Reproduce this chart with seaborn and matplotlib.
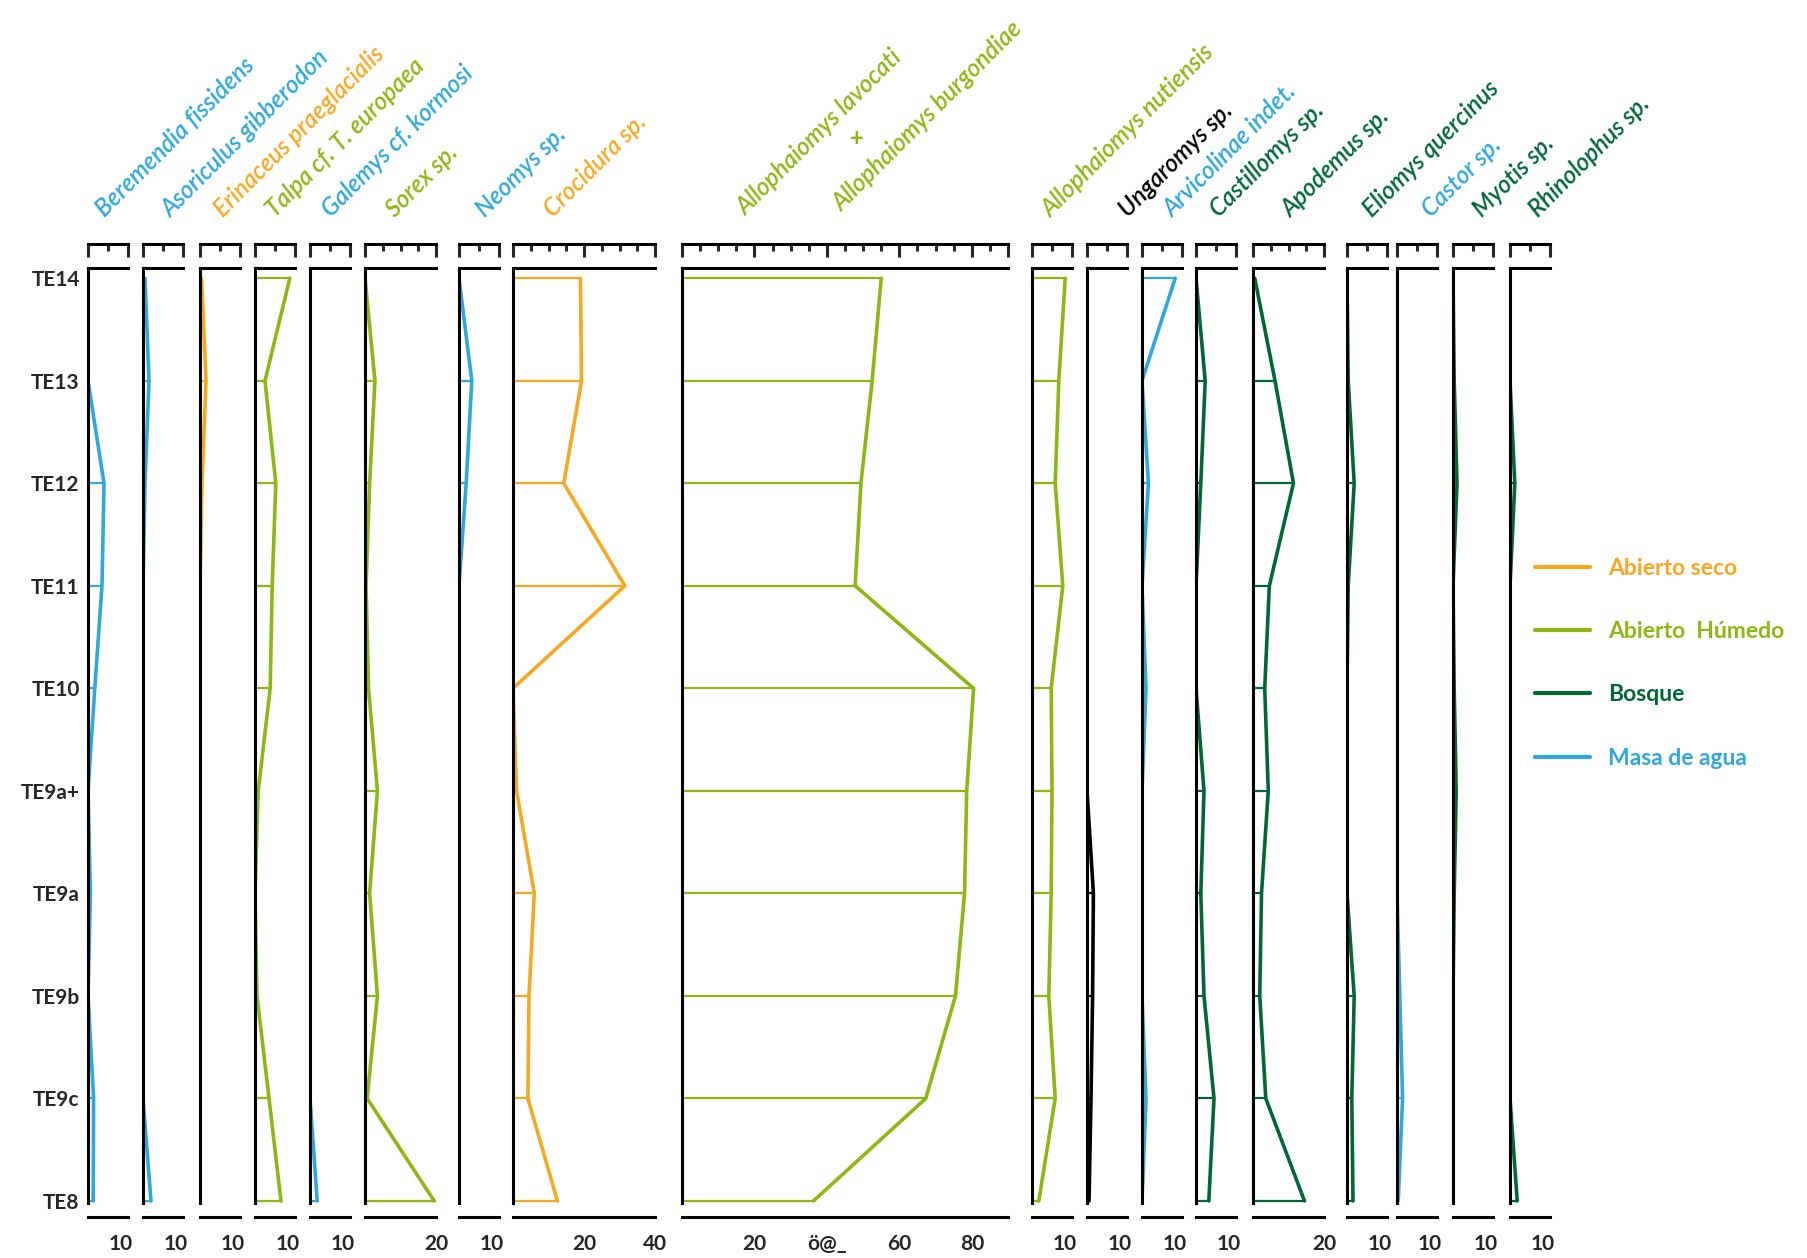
import matplotlib

matplotlib.use("Agg")
import matplotlib.pyplot as plt
import pandas as pd
import seaborn as sns
from matplotlib.lines import Line2D
from matplotlib.transforms import ScaledTranslation

levels = ["TE14", "TE13", "TE12", "TE11", "TE10", "TE9a+", "TE9a", "TE9b", "TE9c", "TE8"]

# percentages, top (TE14) to bottom (TE8)
beremendia = [0, 0, 4.0, 3.5, 1.7, 0, 0.6, 0, 1.4, 1.3]
asoriculus = [0.5, 1.5, 0.5, 0, 0, 0, 0, 0, 0, 2.0]
erinaceus = [0.4, 1.5, 0.5, 0, 0, 0, 0, 0, 0, 0]
talpa = [8.7, 2.5, 5.2, 4.3, 3.8, 0.8, 0, 0.5, 3.5, 6.5]
galemys = [0, 0, 0, 0, 0, 0, 0, 0, 0, 1.8]
sorex = [0, 2.8, 1.3, 0.3, 1.0, 3.5, 1.3, 3.5, 0.6, 19.5]
neomys = [0, 3.2, 1.8, 0, 0, 0, 0, 0, 0, 0]
crocidura = [19.0, 19.3, 14.3, 31.5, 0, 1.0, 6.0, 4.5, 4.2, 12.5]
allophaiomys_lb = [55.0, 52.5, 49.4, 47.8, 80.5, 78.6, 78.0, 75.5, 67.3, 36.3]
allophaiomys_n = [8.3, 6.7, 5.8, 7.7, 4.8, 5.0, 4.8, 4.2, 5.8, 1.7]
ungaromys = [0, 0, 0, 0, 0, 0, 1.6, 1.4, 1.0, 0.5]
arvicolinae = [8.3, 0, 1.6, 0, 1.0, 0, 0, 0, 1.0, 0]
castillomys = [0, 2.3, 1.2, 0, 0, 2.0, 1.2, 2.0, 4.5, 3.2]
apodemus = [0.5, 6.2, 11.4, 4.6, 3.3, 4.3, 2.4, 1.9, 3.6, 14.5]
eliomys = [0, 0.3, 1.8, 0.3, 0, 0, 0, 1.8, 1.2, 1.5]
castor = [0, 0, 0, 0, 0, 0, 0, 0.7, 1.4, 0.3]
myotis = [0, 0.3, 1.0, 0, 0.3, 0.8, 0.3, 0, 0, 0]
rhinolophus = [0, 0, 1.2, 0, 0, 0, 0, 0, 0, 1.8]

taxa = [
    "Beremendia fissidens", "Asoriculus gibberodon", "Erinaceus praeglacialis",
    "Talpa cf. T. europaea", "Galemys cf. kormosi", "Sorex sp.", "Neomys sp.",
    "Crocidura sp.", "Allophaiomys lavocati + Allophaiomys burgondiae",
    "Allophaiomys nutiensis", "Ungaromys sp.", "Arvicolinae indet.", "Castillomys sp.",
    "Apodemus sp.", "Eliomys quercinus", "Castor sp.", "Myotis sp.", "Rhinolophus sp.",
]
series = [
    beremendia, asoriculus, erinaceus, talpa, galemys, sorex, neomys, crocidura,
    allophaiomys_lb, allophaiomys_n, ungaromys, arvicolinae, castillomys, apodemus,
    eliomys, castor, myotis, rhinolophus,
]
groups = [
    "Masa de agua", "Masa de agua", "Abierto seco", "Abierto  Húmedo", "Masa de agua",
    "Abierto  Húmedo", "Masa de agua", "Abierto seco", "Abierto  Húmedo", "Abierto  Húmedo",
    None, "Masa de agua", "Bosque", "Bosque", "Bosque", "Masa de agua", "Bosque", "Bosque",
]
scale_max = [10, 10, 10, 10, 10, 20, 10, 40, 90, 10, 10, 10, 10, 20, 10, 10, 10, 10]
bottom_labels = [
    {10: "10"}, {10: "10"}, {10: "10"}, {10: "10"}, {10: "10"}, {20: "20"}, {10: "10"},
    {20: "20", 40: "40"}, {20: "20", 40: "ö@_", 60: "60", 80: "80"},
    {10: "10"}, {10: "10"}, {10: "10"}, {10: "10"}, {20: "20"}, {10: "10"}, {10: "10"},
    {10: "10"}, {10: "10"},
]

group_colors = {
    "Abierto seco": "#F7A823",
    "Abierto  Húmedo": "#8DB814",
    "Bosque": "#006835",
    "Masa de agua": "#2FA8DC",
}

# layout in pixels of the 1807x1258 picture
W, H = 1807, 1258
panel_left = [88, 143, 200, 255, 310, 365, 459, 513, 682, 1032, 1087, 1142, 1196, 1253, 1347, 1397, 1453, 1510]
panel_width = [40, 40, 40, 40, 40, 71, 40, 142, 326, 40, 40, 40, 40, 71, 40, 40, 40, 40]
top_px, bot_px = 268, 1203
name_x = [105, 171, 223, 275, 331, 395, 485, 553, None, 1051, 1128, 1173, 1219, 1291, 1372, 1431, 1482, 1538]
name_y = 218

records = []
for taxon, vals in zip(taxa, series):
    for i, (lv, v) in enumerate(zip(levels, vals)):
        records.append((taxon, lv, i, v))
df = pd.DataFrame(records, columns=["taxon", "level", "pos", "value"])

sns.set_style("white")
plt.rcParams["font.family"] = ["Lato", "DejaVu Sans"]
plt.rcParams["axes.edgecolor"] = "black"
plt.rcParams["axes.linewidth"] = 2.2

fig = plt.figure(figsize=(W / 100, H / 100), dpi=100)
fig.patch.set_facecolor("white")
shift_left = ScaledTranslation(-7 / 100, 0, fig.dpi_scale_trans)

panel_h = bot_px - top_px
for k, taxon in enumerate(taxa):
    xmax = scale_max[k]
    ax = fig.add_axes([panel_left[k] / W, 1 - bot_px / H, panel_width[k] / W, panel_h / H])
    color = group_colors.get(groups[k], "black")
    sub = df[df["taxon"] == taxon]

    nz = sub[sub["value"] > 0]
    ax.hlines(nz["pos"], 0, nz["value"], color=color, lw=1.6)
    sns.lineplot(
        data=sub, x="value", y="pos", orient="y", sort=False, estimator=None,
        color=color, lw=2.6, ax=ax,
    )

    ax.set_xlim(0, xmax)
    ax.set_ylim(9.02, -0.1)
    ax.set_xlabel("")
    ax.set_ylabel("")
    ax.set_facecolor("none")
    ax.spines["right"].set_visible(False)
    ax.spines["bottom"].set_position(("outward", 10))

    major = sorted(set([0, xmax] + list(bottom_labels[k])))
    minor = [m for m in range(0, xmax + 1, 5) if m not in major]
    ax.set_xticks(major, [bottom_labels[k].get(m, "") for m in major])
    ax.set_xticks(minor, minor=True)
    ax.tick_params(axis="x", which="major", direction="out", length=9, width=2.2,
                   labelsize=15, pad=3, top=False)
    ax.tick_params(axis="x", which="minor", direction="out", length=5, width=2.2, top=False)
    for lbl in ax.get_xticklabels():
        lbl.set_fontweight("bold")
        if xmax == 10:
            lbl.set_transform(lbl.get_transform() + shift_left)

    sec = ax.secondary_xaxis(1 + 24 / panel_h)
    sec.set_ticks(major)
    sec.set_ticks(minor, minor=True)
    sec.tick_params(axis="x", which="major", direction="in", length=9, width=2.2, labeltop=False)
    sec.tick_params(axis="x", which="minor", direction="in", length=5, width=2.2, labeltop=False)
    sec.spines["top"].set_linewidth(2.2)

    if k == 0:
        ax.set_yticks(range(len(levels)), levels)
        ax.tick_params(axis="y", length=0, labelsize=15, pad=6)
        for lbl in ax.get_yticklabels():
            lbl.set_fontweight("bold")
    else:
        ax.set_yticks([])

    if name_x[k] is not None:
        fig.text(name_x[k] / W, 1 - name_y / H, taxon, rotation=45, rotation_mode="anchor",
                 ha="left", va="baseline", color=color, fontsize=17.5, style="italic",
                 fontweight="semibold")

lb_color = group_colors["Abierto  Húmedo"]
fig.text(746 / W, 1 - 216 / H, "Allophaiomys lavocati", rotation=45, rotation_mode="anchor",
         ha="left", va="baseline", color=lb_color, fontsize=17.5, style="italic",
         fontweight="semibold")
fig.text(857 / W, 1 - 139 / H, "+", ha="center", va="center", color=lb_color,
         fontsize=17, fontweight="bold")
fig.text(842 / W, 1 - 212 / H, "Allophaiomys burgondiae", rotation=45, rotation_mode="anchor",
         ha="left", va="baseline", color=lb_color, fontsize=17.5, style="italic",
         fontweight="semibold")

handles = [Line2D([], [], color=c, lw=3) for c in group_colors.values()]
fig.legend(
    handles, list(group_colors.keys()), loc="upper left",
    bbox_to_anchor=(1514 / W, 1 - 537 / H), frameon=False, labelcolor="linecolor",
    prop={"family": "Lato", "weight": "bold", "size": 16.5},
    handlelength=2.4, handletextpad=0.8, labelspacing=1.85,
)

fig.savefig("out.png", dpi=100, facecolor="white")
plt.close(fig)
